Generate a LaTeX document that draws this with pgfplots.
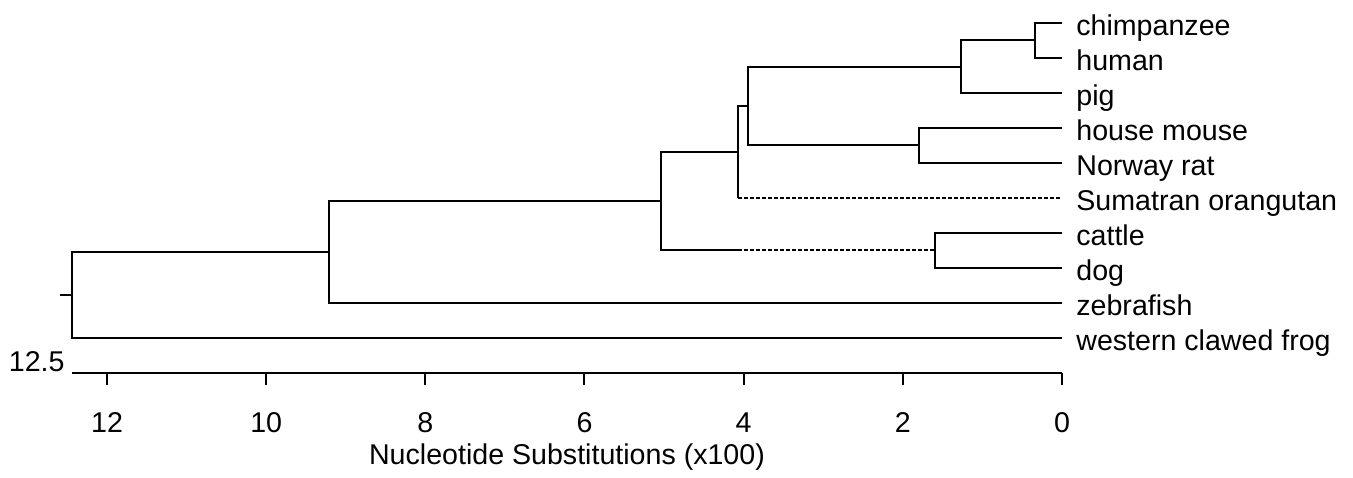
\documentclass[border=0pt]{standalone}
\usepackage{fontspec}
\setmainfont{Liberation Sans}
\usepackage{pgfplots}
\pgfplotsset{compat=1.18}

% leaf rows: y = 11 - row (chimpanzee = 10 ... frog = 1), axis line at y = 0
\newcommand{\lbl}{\fontsize{14.3pt}{17pt}\selectfont}

\begin{document}
\begin{tikzpicture}
\begin{axis}[
    scale only axis,
    width=495pt, height=175pt,
    xmin=0, xmax=12.44, ymin=0, ymax=10,
    x dir=reverse,
    enlargelimits=false,
    clip=false,
    axis x line=bottom, axis y line=none,
    axis line style={-, line width=1pt},
    xtick={0,2,4,6,8,10,12},
    tick align=outside,
    major tick length=6pt,
    every tick/.style={black, line width=1pt},
    /pgf/number format/assume math mode=true,
    ticklabel style={font=\lbl},
    xticklabel style={anchor=base, yshift=-24pt},
    xlabel={Nucleotide Substitutions (x100)},
    xlabel style={font=\lbl, at={(axis description cs:0.5,0)}, anchor=base, yshift=-46pt},
    br/.style={black, solid, line width=1pt, no marks, sharp plot},
    dbr/.style={br, dash pattern=on 2pt off 1pt},
]
% chimpanzee / human
\addplot[br] coordinates {(0,10) (0.34,10) (0.34,9) (0,9)};
% pig
\addplot[br] coordinates {(0.34,9.5) (1.27,9.5) (1.27,8) (0,8)};
% house mouse / Norway rat
\addplot[br] coordinates {(0,7) (1.80,7) (1.80,6) (0,6)};
\addplot[br] coordinates {(1.27,8.75) (3.95,8.75) (3.95,6.5) (1.80,6.5)};
% Sumatran orangutan
\addplot[br] coordinates {(3.95,7.625) (4.07,7.625) (4.07,5)};
\addplot[dbr] coordinates {(4.07,5) (0,5)};
% cattle / dog
\addplot[br] coordinates {(0,4) (1.60,4) (1.60,3) (0,3)};
\addplot[br] coordinates {(4.07,6.3125) (5.04,6.3125) (5.04,3.5) (4.07,3.5)};
\addplot[dbr] coordinates {(4.07,3.5) (1.60,3.5)};
% zebrafish
\addplot[br] coordinates {(5.04,4.90625) (9.21,4.90625) (9.21,2) (0,2)};
% western clawed frog + root
\addplot[br] coordinates {(9.21,3.453) (12.44,3.453) (12.44,1) (0,1)};
\addplot[br] coordinates {(12.44,2.2266) (12.59,2.2266)};

\foreach \y/\name in {10/chimpanzee, 9/human, 8/pig, 7/house mouse, 6/Norway rat,
    5/Sumatran orangutan, 4/cattle, 3/dog, 2/zebrafish, 1/western clawed frog} {
  \edef\tmp{\noexpand\node[anchor=base west, inner sep=0pt, xshift=7pt, yshift=-6.25pt, font=\noexpand\lbl]
    at (axis cs:0,\y) {\name};}
  \tmp
}
\node[anchor=base east, inner sep=0pt, xshift=-3.5pt, yshift=0.5pt, font=\lbl] at (axis cs:12.44,0) {12.5};

% page extent of the reference
\path (axis cs:13.345,10.657) rectangle (axis cs:-3.657,-2.771);
\end{axis}
\end{tikzpicture}
\end{document}
